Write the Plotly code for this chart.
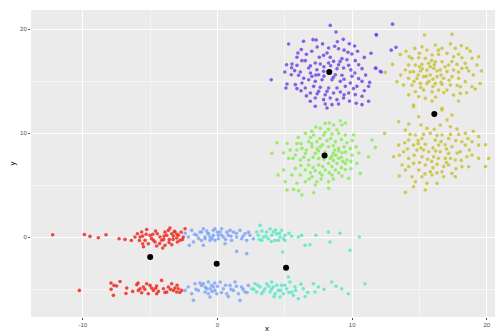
import plotly.graph_objects as go

# ---- data ----
red_pts = [(-12.24,0.25),(-9.89,0.28),(-9.47,0.09),(-8.85,-0.04),(-8.28,0.25),(-7.31,-0.13),(-6.87,-0.20),
           (-6.13,0.03),(-5.95,0.35),(-5.63,0.51),(-5.56,0.12),(-5.26,0.76),(-5.38,-0.29),(-5.14,-0.61),
           (-4.64,-0.45),(-4.47,0.35),(-4.27,0.03),(-4.15,-0.29),(-3.97,0.12),(-3.77,0.19),(-3.65,0.67),
           (-3.53,0.89),(-3.40,0.35),(-3.28,0.12),(-3.16,0.51),(-3.03,-0.07),(-2.91,0.19),(-2.78,-0.29),
           (-3.90,-0.77),(-4.07,-1.03),(-3.40,-0.71),(-4.52,-0.84),(-4.76,-0.29),(-2.41,0.83),(-2.54,0.03),
           (-5.56,-0.61),(-5.75,0.03),(-5.01,0.19),(-3.58,-0.20),(-3.20,0.57),(-2.98,-0.45),
           (-5.8,-0.3),(-5.3,0.3),(-4.9,-0.1),(-4.6,0.6),(-4.3,-0.6),(-3.9,0.5),(-3.6,-0.5),(-3.3,-0.2),
           (-3.0,0.3),(-2.7,0.5),(-2.6,-0.2),(-4.0,-0.2),(-4.8,0.3),(-6.4,-0.3),(-5.5,-0.9),
           (-10.26,-5.10),(-7.91,-4.40),(-7.69,-4.62),(-7.49,-4.68),(-7.24,-4.24),(-7.73,-5.58),(-6.74,-4.88),
           (-6.00,-4.56),(-5.88,-5.10),(-5.63,-5.33),(-5.51,-4.78),(-5.26,-4.46),(-5.14,-5.42),(-4.89,-4.88),
           (-4.76,-5.10),(-4.52,-4.68),(-4.39,-5.20),(-4.15,-4.14),(-4.02,-4.94),(-3.77,-5.26),(-3.65,-4.78),
           (-3.40,-4.46),(-3.28,-5.10),(-3.16,-4.88),(-3.03,-5.26),(-2.91,-4.94),(-2.66,-5.10),(-4.52,-5.42),
           (-5.01,-4.62),(-5.75,-4.94),
           (-6.3,-5.2),(-5.4,-5.0),(-4.6,-4.9),(-3.9,-5.3),(-3.5,-5.0),(-3.0,-4.6),(-2.8,-5.3),(-6.8,-5.4),
           (-5.9,-4.4),(-7.9,-5.0)]

blue_pts = [(-2.17,0.03),(-1.92,0.67),(-1.79,-0.45),(-1.55,0.19),(-1.30,0.51),(-1.05,0.83),(-0.93,-0.13),
            (-0.68,0.35),(-0.56,0.03),(-0.31,0.67),(-0.19,-0.29),(0.06,0.19),(-2.09,-0.77),
            (-1.18,0.51),(-0.93,0.03),(-0.68,0.35),(-0.56,-0.29),(-0.31,0.19),(-0.19,0.83),(0.06,-0.13),
            (0.19,0.51),(0.43,0.03),(0.56,-0.61),(0.80,0.19),(1.05,-0.29),(1.18,0.51),(1.42,0.03),(1.67,0.67),
            (1.79,-0.13),(2.04,0.35),(2.17,-0.29),(2.41,0.19),(2.66,-0.13),(-1.05,-0.77),(1.42,-1.35),
            (2.17,-1.57),(0.31,0.83),(0.93,0.67),
            (-1.7,0.3),(-1.4,-0.1),(-0.8,0.6),(-0.4,-0.1),(0.3,0.2),(0.7,0.5),(1.0,0.1),(1.4,0.4),(1.9,0.1),
            (2.3,0.5),(-1.2,-0.3),(0.0,0.5),(0.6,-0.2),(-2.4,0.4),
            (-2.17,-4.78),(-1.92,-5.42),(-1.67,-4.46),(-1.42,-5.10),(-1.18,-4.62),(-0.93,-5.26),(-0.68,-4.30),
            (-0.56,-4.94),(-0.31,-4.78),(-0.06,-5.42),(-1.79,-6.06),(-1.05,-4.46),(-0.80,-4.94),(-0.68,-5.42),
            (-0.43,-4.62),(-0.19,-5.10),(0.19,-4.30),(0.43,-4.94),(0.68,-5.42),(0.93,-4.62),(1.18,-5.10),
            (1.30,-4.30),(1.55,-5.42),(1.79,-4.78),(2.04,-5.26),(1.67,-6.06),(2.29,-4.62),(-0.56,-5.74),
            (-1.6,-5.0),(-1.3,-4.4),(-0.9,-4.8),(-0.4,-5.2),(0.0,-4.7),(0.3,-5.3),(0.6,-4.6),(1.0,-5.0),
            (1.4,-4.7),(1.9,-5.0),(2.2,-5.3),(-0.2,-4.4),(-2.4,-5.1),(0.8,-5.7)]

cyan_pts = [(3.16,1.15),(3.03,0.19),(3.40,0.03),(3.65,0.51),(3.77,-0.13),(3.90,0.83),(4.02,0.19),(4.27,-0.29),
            (4.39,0.35),(4.64,0.03),(4.76,0.67),(4.89,-0.13),(5.01,0.19),(6.00,0.03),(6.25,0.19),(6.50,-0.77),
            (6.87,-0.71),(8.23,0.51),(8.35,-0.45),(9.84,-1.25),(10.53,0.03),(4.84,-1.41),(2.91,0.51),
            (3.28,-0.29),(4.14,0.51),(4.52,-0.29),
            (3.3,0.6),(3.6,0.1),(4.0,-0.4),(4.3,0.7),(4.6,0.4),(5.0,-0.3),(5.3,0.4),(3.1,-0.2),(7.3,0.2),
            (5.5,0.1),(9.1,0.4),
            (2.54,-4.94),(2.78,-4.46),(2.91,-5.26),(3.16,-4.78),(3.28,-5.42),(3.53,-4.94),(3.65,-4.46),
            (3.90,-5.26),(4.14,-4.78),(4.27,-5.42),(4.52,-5.10),(4.76,-4.62),(4.89,-5.42),(5.14,-4.94),
            (5.38,-4.30),(5.51,-5.26),(5.75,-4.78),(6.00,-5.90),(6.37,-4.94),(7.12,-4.46),(7.24,-5.26),
            (7.49,-4.78),(8.48,-4.30),(9.22,-4.94),(9.71,-5.42),(10.95,-4.46),(4.64,-5.74),(5.26,-3.82),
            (5.63,-5.58),(4.02,-4.30),
            (2.7,-5.0),(3.0,-4.6),(3.4,-5.2),(3.8,-4.7),(4.0,-5.0),(4.4,-4.6),(4.7,-5.1),(5.0,-4.6),
            (5.3,-5.3),(5.8,-5.1),(6.2,-4.5),(6.7,-5.3),(7.9,-5.0),(8.8,-4.7),(6.5,-5.7),(4.2,-5.7)]

green_pts = [(9.12,11.21),(8.00,10.96),(8.62,10.80),(9.24,10.80),(7.63,10.48),(8.25,10.38),(8.87,10.32),
             (6.52,10.00),(7.14,9.84),(7.88,9.84),(8.50,9.93),(9.49,9.84),(10.11,9.84),(4.41,9.10),(5.16,9.03),
             (5.90,9.03),(6.77,9.20),(7.38,9.20),(8.13,9.29),(8.75,9.20),(9.61,9.10),(11.47,9.36),(11.72,8.65),
             (5.40,8.39),(6.27,8.55),(7.01,8.71),(7.63,8.71),(8.25,8.71),(8.99,8.55),(9.86,8.55),(4.04,8.07),
             (4.91,8.14),(5.78,7.91),(6.52,8.07),(7.26,8.07),(8.62,8.07),(9.24,8.14),(9.98,7.91),(11.22,7.75),
             (5.28,7.59),(6.15,7.43),(6.77,7.43),(7.51,7.59),(8.37,7.59),(8.99,7.59),(9.61,7.43),(6.77,6.95),
             (7.51,6.95),(8.25,7.11),(8.87,7.11),(9.49,7.11),(10.35,7.11),(4.91,6.47),(5.78,6.63),(6.52,6.47),
             (7.26,6.41),(8.00,6.47),(8.75,6.47),(9.49,6.53),(10.60,6.15),(5.53,5.99),(6.15,5.99),(7.01,5.83),
             (7.76,5.99),(8.50,5.99),(9.24,5.89),(9.74,5.67),(5.03,5.35),(6.52,5.35),(7.38,5.35),(8.25,5.35),
             (5.16,4.55),(5.65,4.61),(6.02,4.48),(7.14,4.29),(6.27,4.07),(8.25,4.71),(7.26,5.03),
             (8.8,7.9),(9.0,8.3),(8.5,7.8),(9.2,7.7),(8.7,8.4),(7.5,8.3),
             (7.3,10.6),(8.3,11.0),(9.5,11.0),(7.0,10.2),(8.0,10.1),(9.0,10.0),(6.0,9.6),(6.9,9.6),(7.6,9.5),
             (8.4,9.5),(9.2,9.4),(10.0,9.3),(6.2,9.0),(7.0,9.0),(7.8,8.9),(8.6,8.8),(9.4,8.7),(10.3,8.7),
             (5.9,8.4),(6.6,8.4),(7.4,8.5),(8.0,8.2),(9.5,8.2),(10.5,8.1),(5.6,7.6),(6.4,7.7),(7.1,7.7),
             (7.9,7.5),(8.6,7.4),(9.3,7.3),(9.9,7.3),(6.2,6.9),(7.1,6.7),(7.8,6.8),(8.5,6.8),(9.2,6.7),
             (9.9,6.6),(6.9,6.2),(7.6,6.2),(8.3,6.2),(9.0,6.2),(6.8,5.6),(7.7,5.6),(8.6,5.6),(5.9,5.2),(4.5,6.0)]

yellow_pts = [(15.38,19.45),(17.41,19.52),(12.46,15.86),(13.00,16.63),(13.57,17.59),(14.24,17.37),(14.64,18.17),
              (15.18,18.33),(15.55,18.01),(16.17,18.49),(16.67,18.17),(17.66,18.17),(18.10,18.43),(18.52,18.17),
              (18.77,17.91),(19.39,17.37),(14.44,17.21),(14.94,17.27),(15.43,17.21),(15.93,17.53),(16.42,17.59),
              (17.04,17.69),(17.53,17.37),(18.15,17.27),(18.90,17.21),(14.19,16.57),(14.69,16.57),(15.18,16.63),
              (15.68,16.73),(16.17,16.89),(16.67,16.89),(17.16,16.57),(17.78,16.63),(18.40,16.73),(19.27,16.57),
              (13.95,16.09),(14.56,15.93),(15.06,15.99),(15.55,16.09),(16.05,16.25),(16.54,16.09),(17.04,15.93),
              (17.53,16.09),(18.15,16.25),(18.65,15.99),(14.19,15.29),(14.81,15.29),(15.31,15.45),(15.80,15.61),
              (16.30,15.45),(16.79,15.29),(17.41,15.45),(17.91,15.29),(18.40,14.97),(13.33,14.97),(13.82,14.64),
              (14.44,14.64),(15.06,14.80),(15.55,14.80),(16.17,14.80),(16.67,14.71),(17.29,14.64),(18.03,14.48),
              (18.90,14.48),(19.14,14.26),(14.69,14.00),(15.31,14.16),(15.93,14.00),(16.42,14.16),(17.04,14.16),
              (17.53,13.68),(18.03,13.84),(14.94,13.52),(15.43,13.36),(15.93,13.11),(14.56,12.72),(16.67,12.40),
              (15.2,16.2),(15.7,15.0),(16.1,16.6),(14.9,15.6),(16.6,15.6),(15.9,17.0),
              (14.0,17.9),(15.0,17.7),(16.4,18.0),(17.3,18.6),(17.9,17.6),(18.5,16.3),(19.0,15.6),(19.6,16.0),
              (13.6,15.6),(14.3,15.9),(15.0,16.4),(15.8,16.4),(16.3,16.0),(16.9,16.4),(17.4,16.9),(17.9,15.9),
              (14.6,15.0),(15.5,15.5),(16.0,15.2),(16.6,14.9),(17.2,15.1),(17.8,14.6),(15.1,14.4),(16.0,14.5),
              (16.8,13.9),(18.5,13.9),(19.5,14.8),(14.2,13.7),(17.9,13.1),(16.2,13.5),
              (14.56,12.56),(16.67,12.24),(17.41,11.76),(14.94,11.60),(17.04,11.28),(13.45,11.12),(16.54,10.80),
              (17.29,10.64),(13.95,10.32),(15.55,10.48),(17.78,10.41),(12.41,10.00),(14.69,9.84),(15.80,10.00),
              (16.67,9.84),(17.91,9.90),(19.39,9.68),(14.19,9.35),(15.18,9.51),(16.17,9.35),(17.16,9.51),
              (18.15,9.19),(18.90,9.19),(13.45,8.87),(14.56,8.87),(15.43,8.94),(16.42,8.87),(17.41,8.71),
              (18.40,8.87),(19.39,8.87),(13.82,8.23),(14.81,8.39),(15.68,8.23),(16.54,8.23),(17.16,8.07),
              (18.03,8.23),(18.90,7.91),(20.13,7.59),(13.08,7.75),(14.19,7.59),(15.18,7.75),(16.05,7.75),
              (16.92,7.59),(17.66,7.43),(18.52,7.75),(19.39,7.59),(13.70,6.95),(14.56,7.11),(15.43,6.95),
              (16.30,7.02),(17.16,6.95),(18.15,6.79),(18.65,6.79),(13.95,6.47),(14.94,6.47),(15.80,6.31),
              (16.67,6.31),(17.41,6.15),(14.44,5.83),(15.18,5.83),(15.93,5.99),(16.79,5.83),(17.66,5.83),
              (14.69,5.35),(15.55,5.19),(14.56,4.87),(13.95,4.32),(15.43,4.55),(16.30,5.19),
              (16.0,8.6),(15.3,8.4),(16.9,8.9),(15.9,7.3),(17.0,7.2),(14.9,9.0),
              (14.2,10.9),(15.1,10.8),(16.1,10.4),(18.4,10.0),(19.0,10.2),(14.3,9.9),(15.3,9.9),(16.3,9.8),
              (17.3,9.9),(18.6,9.5),(13.9,9.1),(14.9,9.3),(16.6,9.2),(17.7,9.3),(19.9,8.9),(14.1,8.5),
              (15.1,8.6),(16.2,8.3),(17.0,8.5),(17.8,8.1),(18.7,8.4),(13.5,7.9),(14.6,7.9),(15.6,7.5),
              (16.4,7.6),(17.3,7.6),(18.1,7.4),(14.2,6.8),(15.0,7.2),(16.0,6.7),(16.8,6.8),(17.7,6.6),
              (15.4,6.1),(16.3,6.2),(19.9,6.8),(13.5,5.9)]

purple_pts = [(8.37,20.38),(8.80,19.74),(11.79,19.49),(5.28,18.59),(6.39,18.85),(7.09,19.01),(7.33,18.97),
              (9.34,19.04),(9.79,18.62),(10.18,18.40),(6.22,18.05),(5.97,17.72),(8.25,18.21),(8.70,18.37),
              (8.99,18.14),(8.13,17.72),(9.69,17.79),(9.98,17.63),(5.90,17.31),(6.27,16.99),(6.52,16.99),
              (7.56,17.31),(7.88,17.50),(8.37,17.31),(9.24,17.18),(9.61,17.08),(10.23,16.99),(5.13,16.60),
              (5.53,16.67),(5.90,16.54),(7.26,16.76),(7.63,16.67),(8.25,16.76),(8.62,16.92),(8.99,16.60),
              (9.74,16.54),(10.48,16.60),(11.72,16.28),(5.73,16.03),(6.15,15.90),(6.77,16.28),(7.38,16.12),
              (7.88,15.96),(8.37,15.90),(8.87,16.22),(9.36,16.28),(10.73,16.22),(12.09,15.96),(3.99,15.16),
              (5.48,15.64),(6.02,15.58),(7.01,15.48),(7.51,15.64),(8.25,15.80),(8.75,15.64),(9.24,15.58),
              (9.98,15.48),(10.48,15.26),(5.16,14.74),(5.78,14.68),(6.27,14.84),(6.77,15.16),(7.26,15.00),
              (7.76,15.16),(8.50,15.16),(9.12,15.00),(9.86,14.84),(10.73,15.00),(5.08,14.36),(5.90,14.30),
              (6.52,14.36),(7.14,14.52),(7.63,14.42),(8.25,14.36),(8.87,14.36),(9.49,14.52),(10.35,14.52),
              (11.22,14.52),(6.89,13.88),(7.51,14.04),(8.13,14.04),(8.62,13.88),(9.12,13.97),(9.74,13.88),
              (10.23,13.72),(7.26,13.40),(7.88,13.24),(8.37,13.40),(8.87,13.24),(9.36,13.40),(10.73,13.56),
              (11.22,13.08),(6.89,13.08),(8.00,12.82),(8.50,12.76),(8.99,12.82),(10.73,12.76),(7.26,12.60),
              (8.13,12.44),(13.0,20.5),(11.8,19.45),(12.9,18.0),(13.25,18.27),(11.77,16.25),(12.16,15.9),
              (6.6,17.6),(7.0,17.9),(7.4,18.3),(7.8,18.6),(8.9,18.8),(9.4,18.0),(10.4,17.9),(10.9,17.3),
              (6.9,16.5),(7.9,16.4),(8.4,16.5),(9.1,16.9),(9.9,16.1),(10.2,15.8),(11.0,15.6),(6.4,15.3),
              (6.9,15.8),(7.3,15.6),(7.9,15.5),(8.6,15.4),(9.4,15.2),(10.1,14.3),(10.9,14.1),(6.2,14.1),
              (6.6,13.6),(7.4,13.8),(8.0,13.7),(9.4,13.7),(9.8,13.1),(10.3,12.9),(5.5,16.3),(5.0,15.9),
              (11.4,17.7),(11.3,14.9)]

centers_x = [-5.0, -0.06, 5.09, 7.95, 8.3, 16.1]
centers_y = [-1.9, -2.54, -2.92, 7.88, 15.9, 11.85]

cluster_names = ["1", "2", "3", "4", "5", "6"]
cluster_colors = ["#EE2A22", "#7FA6F6", "#5BE8C6", "#8CEB58", "#C9C23A", "#7447E8"]
cluster_points = [red_pts, blue_pts, cyan_pts, green_pts, yellow_pts, purple_pts]

x_ticks = [-10, 0, 10, 20]
y_ticks = [0, 10, 20]

fig = go.Figure()
for name, col, pts in zip(cluster_names, cluster_colors, cluster_points):
    xs = [p[0] for p in pts]
    ys = [p[1] for p in pts]
    fig.add_trace(go.Scatter(x=xs, y=ys, mode="markers", name=name, showlegend=False,
                             marker=dict(size=3.6, color=col, opacity=0.85,
                                         line=dict(width=0))))

fig.add_trace(go.Scatter(x=centers_x, y=centers_y, mode="markers", showlegend=False,
                         marker=dict(size=6, color="black")))

# the page shows the figure offset by the default 8px body margin,
# so the figure is sized to fill the rest of the 503x333 window
fig.update_layout(
    width=495, height=325,
    margin=dict(l=23, r=0, t=2, b=16),
    paper_bgcolor="white", plot_bgcolor="#EBEBEB",
    font=dict(family="Liberation Sans, Arial, sans-serif", color="#4D4D4D"),
)
fig.update_xaxes(range=[-13.85, 21.2], tickvals=x_ticks, ticktext=[str(v) for v in x_ticks],
                 showgrid=True, gridcolor="white", gridwidth=1,
                 minor=dict(dtick=5, tick0=-5, showgrid=True, gridcolor="#F5F5F5", gridwidth=0.5),
                 zeroline=False, ticks="outside", ticklen=2, tickcolor="#4D4D4D",
                 tickfont=dict(size=6, color="#4D4D4D"), automargin=False,
                 title=dict(text="x", font=dict(size=8, color="black"), standoff=1))
fig.update_yaxes(range=[-7.66, 21.86], tickvals=y_ticks, ticktext=[str(v) for v in y_ticks],
                 showgrid=True, gridcolor="white", gridwidth=1,
                 minor=dict(dtick=5, tick0=-5, showgrid=True, gridcolor="#F5F5F5", gridwidth=0.5),
                 zeroline=False, ticks="outside", ticklen=2, tickcolor="#4D4D4D",
                 tickfont=dict(size=6, color="#4D4D4D"), automargin=False,
                 title=dict(text="y", font=dict(size=8, color="black"), standoff=4))

fig.write_html("out.html")
